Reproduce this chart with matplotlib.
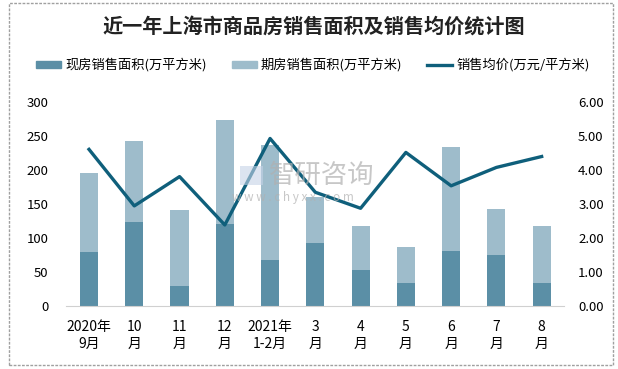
import matplotlib
matplotlib.use("Agg")
import matplotlib.pyplot as plt
from matplotlib.patches import Patch, Rectangle
from matplotlib.lines import Line2D
import numpy as np

plt.rcParams['font.family'] = ['Noto Sans CJK SC', 'DejaVu Sans']

# 数据
months = ['2020年\n9月', '10\n月', '11\n月', '12\n月', '2021年\n1-2月',
          '3\n月', '4\n月', '5\n月', '6\n月', '7\n月', '8\n月']
xianfang = [79, 123, 29, 120, 67, 92, 53, 34, 81, 75, 34]
qifang = [116, 119, 112, 153, 169, 68, 65, 53, 153, 67, 84]
price = [4.60, 2.94, 3.80, 2.38, 4.92, 3.34, 2.87, 4.51, 3.53, 4.07, 4.39]

c_dark = '#5b8fa6'
c_light = '#9ebccb'
c_line = '#0f5f7b'

fig = plt.figure(figsize=(6.18, 3.69), dpi=100)
ax = fig.add_axes([0.1074, 0.1707, 0.8057, 0.5537])
x = np.arange(len(months))

ax.bar(x, xianfang, width=0.4, color=c_dark, zorder=2)
ax.bar(x, qifang, width=0.4, bottom=xianfang, color=c_light, zorder=2)
ax.set_xlim(-0.5, len(months) - 0.5)
ax.set_ylim(0, 300)
ax.set_yticks(range(0, 301, 50))
ax.set_xticks(x)
ax.set_xticklabels(months, fontsize=10, linespacing=1.3)
ax.tick_params(axis='x', length=0, pad=10)
ax.tick_params(axis='y', length=0, pad=13, labelsize=9.5)
for s in ['top', 'left', 'right']:
    ax.spines[s].set_visible(False)
ax.spines['bottom'].set_color('#d0d0d0')

ax2 = ax.twinx()
ax2.plot(x, price, color=c_line, lw=2.4, zorder=3)
ax2.set_ylim(0, 6)
ax2.set_yticks(np.arange(0, 6.01, 1))
ax2.set_yticklabels(['%.2f' % v for v in np.arange(0, 6.01, 1)])
ax2.tick_params(axis='y', length=0, pad=10, labelsize=9.5)
for s in ['top', 'left', 'right', 'bottom']:
    ax2.spines[s].set_visible(False)

# 水印
fig.text(0.436, 0.525, '智研咨询', fontsize=19, color='#b0b0b0', alpha=0.7,
         ha='left', va='center')
fig.text(0.376, 0.466, 'w w w . c h y x x . c o m', fontsize=8.5, color='#b0b0b0',
         alpha=0.7, ha='left', va='center')
fig.patches.append(Rectangle((0.389, 0.499), 0.036, 0.052, transform=fig.transFigure,
                             facecolor='#c5d3e6', alpha=0.6, edgecolor='none'))

fig.text(0.508, 0.93, '近一年上海市商品房销售面积及销售均价统计图', fontsize=14.5,
         fontweight='bold', ha='center', va='center', color='#222222')

handles = [Patch(color=c_dark), Patch(color=c_light), Line2D([], [], color=c_line, lw=2.4)]
labels = ['现房销售面积(万平方米)', '期房销售面积(万平方米)', '销售均价(万元/平方米)']
fig.legend(handles, labels, loc='center left', bbox_to_anchor=(36 / 618, 1 - 65 / 369),
           ncol=3, frameon=False, fontsize=9.5, handlelength=1.9, handleheight=0.45,
           handletextpad=0.3, columnspacing=1.9, borderpad=0, borderaxespad=0)

# 外框
fig.patches.append(Rectangle((9 / 618, 1 - 365 / 369), 604 / 618, 362 / 369,
                             transform=fig.transFigure, fill=False,
                             edgecolor='#a0a0a0', lw=1, ls=(0, (2, 1))))

fig.savefig('out.png', dpi=100)
